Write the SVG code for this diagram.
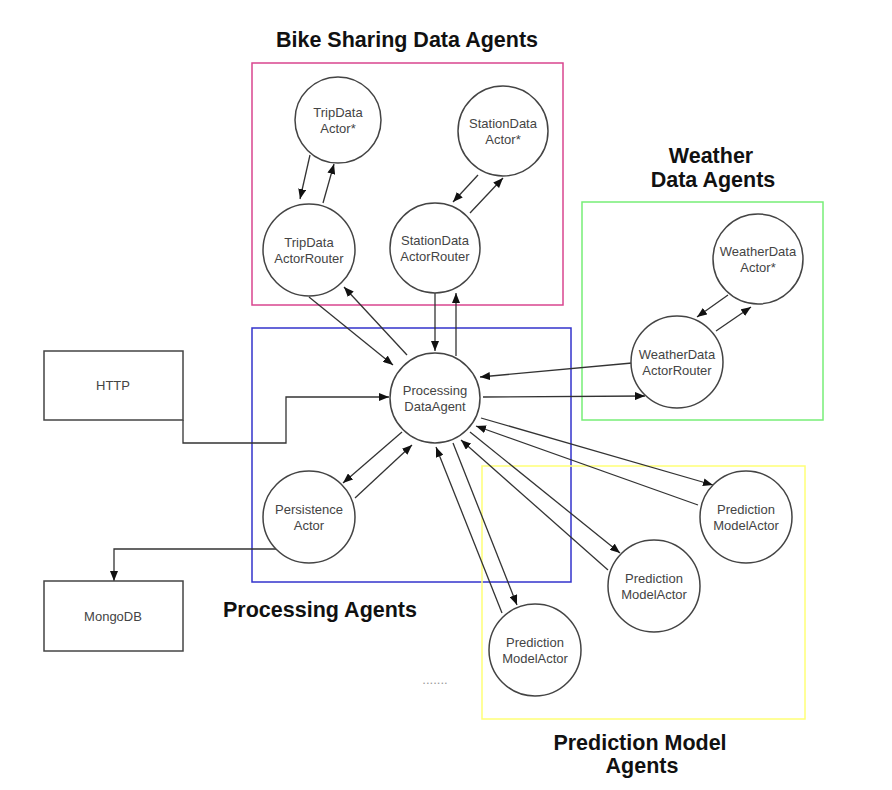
<svg xmlns="http://www.w3.org/2000/svg" width="892" height="790" viewBox="0 0 892 790">
<style>
.grp{fill:none;stroke-width:1.5}
.node circle{fill:#fff;stroke:#444;stroke-width:1.5}
.box rect{fill:#fff;stroke:#444;stroke-width:1.5}
.lbl{font-family:"Liberation Sans",Arial,sans-serif;font-size:13px;fill:#444;text-anchor:middle}
.title{font-family:"Liberation Sans",Arial,sans-serif;font-size:21.5px;font-weight:bold;fill:#111;text-anchor:middle}
.conn line,.conn path{stroke:#333;stroke-width:1.3;fill:none;marker-end:url(#ah)}
</style>
<defs>
<marker id="ah" markerUnits="userSpaceOnUse" markerWidth="11" markerHeight="8" refX="10" refY="4" orient="auto">
<path d="M0,0 L10,4 L0,8 z" fill="#111"/>
</marker>
</defs>
<rect width="892" height="790" fill="#fff"/>

<g id="groups">
<rect class="grp" x="252" y="63" width="311" height="242" stroke="#d9468f"/>
<rect class="grp" x="582" y="202" width="241" height="218" stroke="#77ee77"/>
<rect class="grp" x="252" y="328" width="319" height="254" stroke="#3333cc"/>
<rect class="grp" x="482" y="466" width="323" height="253" stroke="#ffff77"/>
</g>

<g id="titles">
<text class="title" x="407" y="47">Bike Sharing Data Agents</text>
<text class="title" x="711" y="163">Weather</text>
<text class="title" x="713" y="187">Data Agents</text>
<text class="title" x="320" y="617">Processing Agents</text>
<text class="title" x="640" y="750">Prediction Model</text>
<text class="title" x="642" y="773">Agents</text>
<text x="435" y="684" style="font-family:'Liberation Sans',Arial,sans-serif;font-size:13px;fill:#999;text-anchor:middle">.......</text>
</g>

<g id="connectors" class="conn">
<!-- TripData -->
<line x1="310" y1="155" x2="300" y2="199"/>
<line x1="323" y1="203" x2="334" y2="164"/>
<line x1="309" y1="297" x2="393" y2="365"/>
<line x1="407" y1="355" x2="344" y2="287"/>
<!-- StationData -->
<line x1="478" y1="175" x2="453" y2="202"/>
<line x1="470" y1="213" x2="503" y2="178"/>
<line x1="435" y1="293" x2="435" y2="351"/>
<line x1="456" y1="356" x2="456" y2="293"/>
<!-- Weather -->
<line x1="728" y1="295" x2="697" y2="317"/>
<line x1="716" y1="331" x2="751" y2="307"/>
<line x1="632" y1="363" x2="480" y2="377"/>
<line x1="483" y1="397" x2="645" y2="396"/>
<!-- HTTP / Mongo -->
<path d="M183,420 V443 H286 V397 H389"/>
<path d="M276,549 H114 V581"/>
<!-- Persistence -->
<line x1="402" y1="432" x2="343" y2="483"/>
<line x1="355" y1="498" x2="412" y2="445"/>
<!-- Predictions -->
<line x1="481" y1="418" x2="713" y2="485"/>
<line x1="698" y1="505" x2="476" y2="426"/>
<line x1="470" y1="432" x2="620" y2="553"/>
<line x1="608" y1="570" x2="461" y2="440"/>
<line x1="453" y1="443" x2="517" y2="605"/>
<line x1="502" y1="613" x2="436" y2="447"/>
</g>

<g id="tripDataActor" class="node"><circle cx="338" cy="120" r="43"/><text class="lbl" x="338" y="117">TripData</text><text class="lbl" x="338" y="133">Actor*</text></g>
<g id="tripDataActorRouter" class="node"><circle cx="309" cy="250" r="46"/><text class="lbl" x="309" y="247">TripData</text><text class="lbl" x="309" y="263">ActorRouter</text></g>
<g id="stationDataActor" class="node"><circle cx="503" cy="131" r="45"/><text class="lbl" x="503" y="128">StationData</text><text class="lbl" x="503" y="144">Actor*</text></g>
<g id="stationDataActorRouter" class="node"><circle cx="435" cy="248" r="45"/><text class="lbl" x="435" y="245">StationData</text><text class="lbl" x="435" y="261">ActorRouter</text></g>
<g id="weatherDataActor" class="node"><circle cx="758" cy="259" r="45"/><text class="lbl" x="758" y="256">WeatherData</text><text class="lbl" x="758" y="272">Actor*</text></g>
<g id="weatherDataActorRouter" class="node"><circle cx="677" cy="362" r="46"/><text class="lbl" x="677" y="359">WeatherData</text><text class="lbl" x="677" y="375">ActorRouter</text></g>
<g id="processingDataAgent" class="node"><circle cx="435" cy="398" r="45"/><text class="lbl" x="435" y="395">Processing</text><text class="lbl" x="435" y="411">DataAgent</text></g>
<g id="persistenceActor" class="node"><circle cx="309" cy="517" r="46"/><text class="lbl" x="309" y="514">Persistence</text><text class="lbl" x="309" y="530">Actor</text></g>
<g id="predictionModelActor1" class="node"><circle cx="746" cy="517" r="46"/><text class="lbl" x="746" y="514">Prediction</text><text class="lbl" x="746" y="530">ModelActor</text></g>
<g id="predictionModelActor2" class="node"><circle cx="654" cy="586" r="46"/><text class="lbl" x="654" y="583">Prediction</text><text class="lbl" x="654" y="599">ModelActor</text></g>
<g id="predictionModelActor3" class="node"><circle cx="535" cy="650" r="46"/><text class="lbl" x="535" y="647">Prediction</text><text class="lbl" x="535" y="663">ModelActor</text></g>
<g id="http" class="box"><rect x="44" y="351" width="139" height="69"/><text class="lbl" x="113" y="390">HTTP</text></g>
<g id="mongodb" class="box"><rect x="44" y="581" width="139" height="70"/><text class="lbl" x="113" y="621">MongoDB</text></g>
</svg>
